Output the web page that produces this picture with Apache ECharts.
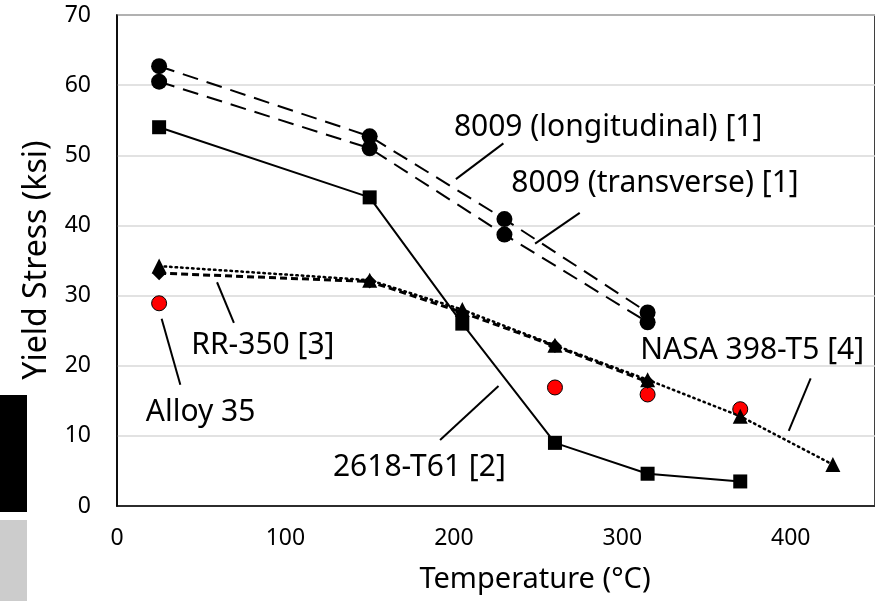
<!DOCTYPE html>
<html>
<head>
<meta charset="utf-8">
<title>Yield Stress vs Temperature</title>
<style>
  * { margin: 0; padding: 0; }
  #chart-container { width: 875px; height: 601px; background: #fff; }
</style>
</head>
<body>
<div id="chart-container"></div>
<script src="https://cdn.jsdelivr.net/npm/echarts@6/dist/echarts.min.js"></script>
<script>
// temperatures in degC, yield stress in ksi
var long8009 = [[25, 62.7], [150, 52.7], [230, 40.9], [315, 27.6]];
var trans8009 = [[25, 60.5], [150, 51.0], [230, 38.7], [315, 26.2]];
var t2618 = [[25, 54.0], [150, 44.0], [205, 26.0], [260, 9.0], [315, 4.6], [370, 3.5]];
var rr350 = [[25, 33.2], [150, 32.0], [205, 27.6], [260, 22.8], [315, 17.7]];
var nasa398 = [[25, 34.2], [150, 32.2], [205, 28.0], [260, 22.9], [315, 18.0], [370, 12.8], [425, 5.9]];
var alloy35 = [[25, 28.9], [260, 16.9], [315, 15.9], [370, 13.8]];

// callout texts (left/middle anchored) and leader lines, in data units
var calloutNames = ['8009 (longitudinal) [1]', '8009 (transverse) [1]', 'RR-350 [3]', 'Alloy 35', '2618-T61 [2]', 'NASA 398-T5 [4]'];
var calloutPos = [[200, 53.9], [234.1, 46.0], [44.1, 22.9], [17.1, 13.4], [128.2, 5.5], [310.6, 22.2]];
var leaders = [
  [[229.4, 51.7], [201.2, 46.6]],
  [[274.7, 41.8], [248.2, 37.4]],
  [[59.4, 31.9], [69.4, 26.1]],
  [[26.5, 26.7], [37.6, 17.3]],
  [[226.5, 17.1], [191.8, 9.4]],
  [[411.8, 18.2], [398.8, 10.7]]
];

var xTicksMax = 450;

var dom = document.getElementById('chart-container');
var myChart = echarts.init(dom, null, { renderer: 'canvas' });

var option = {
  animation: false,
  backgroundColor: '#fff',
  grid: {
    left: 117, right: -7, top: 15, bottom: 95,
    show: true, borderColor: '#000', borderWidth: 1.5
  },
  xAxis: {
    type: 'value', min: 0, max: xTicksMax, interval: 100,
    axisLine: { show: true, lineStyle: { color: '#000', width: 1.5 } },
    axisTick: { show: false },
    splitLine: { show: false },
    axisLabel: { color: '#000', fontSize: 23, fontFamily: 'Noto Sans', margin: 21, showMaxLabel: false }
  },
  yAxis: {
    type: 'value', min: 0, max: 70, interval: 10,
    axisLine: { show: true, lineStyle: { color: '#000', width: 1.5 } },
    axisTick: { show: false },
    splitLine: { show: true, lineStyle: { color: '#d9d9d9', width: 1.5 } },
    axisLabel: { color: '#000', fontSize: 23, fontFamily: 'Noto Sans', margin: 26 }
  },
  graphic: [
    { type: 'rect', shape: { x: 0, y: 395, width: 27, height: 117 }, style: { fill: '#000' } },
    { type: 'rect', shape: { x: 0, y: 520, width: 27, height: 81 }, style: { fill: '#cccccc' } },
    {
      type: 'text', x: 535, y: 580,
      style: { text: 'Temperature (°C)', fill: '#000', font: '29px "Noto Sans"', align: 'center', verticalAlign: 'middle' }
    },
    {
      type: 'text', x: 37, y: 260, rotation: Math.PI / 2,
      style: { text: 'Yield Stress (ksi)', fill: '#000', font: '32px "Noto Sans"', align: 'center', verticalAlign: 'middle' }
    }
  ],
  series: [
    {
      name: '8009 (longitudinal) [1]', type: 'line', data: long8009,
      symbol: 'circle', symbolSize: 16, itemStyle: { color: '#000' },
      lineStyle: { color: '#000', width: 2, type: [16, 9] }
    },
    {
      name: '8009 (transverse) [1]', type: 'line', data: trans8009,
      symbol: 'circle', symbolSize: 16, itemStyle: { color: '#000' },
      lineStyle: { color: '#000', width: 2, type: [16, 9] }
    },
    {
      name: '2618-T61 [2]', type: 'line', data: t2618,
      symbol: 'rect', symbolSize: 14, itemStyle: { color: '#000' },
      lineStyle: { color: '#000', width: 2 }
    },
    {
      name: 'RR-350 [3]', type: 'line', data: rr350,
      symbol: 'diamond', symbolSize: 14, itemStyle: { color: '#000' },
      lineStyle: { color: '#000', width: 3, type: [7, 4] }
    },
    {
      name: 'NASA 398-T5 [4]', type: 'line', data: nasa398,
      symbol: 'triangle', symbolSize: 15, itemStyle: { color: '#000' },
      lineStyle: { color: '#000', width: 2.5, type: [1.5, 4], cap: 'round' }
    },
    {
      name: 'Alloy 35', type: 'scatter', data: alloy35,
      symbol: 'circle', symbolSize: 15,
      itemStyle: { color: '#ff0000', borderColor: '#000', borderWidth: 1, opacity: 1 }
    },
    {
      name: 'leaders', type: 'lines', coordinateSystem: 'cartesian2d',
      data: leaders.map(function (c) { return { coords: c }; }),
      lineStyle: { color: '#000', width: 2, opacity: 1, curveness: 0 },
      silent: true
    },
    {
      name: 'callouts', type: 'scatter', symbolSize: 0, silent: true,
      itemStyle: { opacity: 1 },
      data: calloutPos.map(function (p, i) { return { value: p, name: calloutNames[i] }; }),
      label: {
        show: true, position: 'right', distance: 0,
        formatter: function (p) { return p.name; },
        color: '#000', fontSize: 30, fontFamily: 'Noto Sans'
      }
    }
  ]
};

myChart.setOption(option);
window.addEventListener('resize', myChart.resize);
</script>
</body>
</html>
